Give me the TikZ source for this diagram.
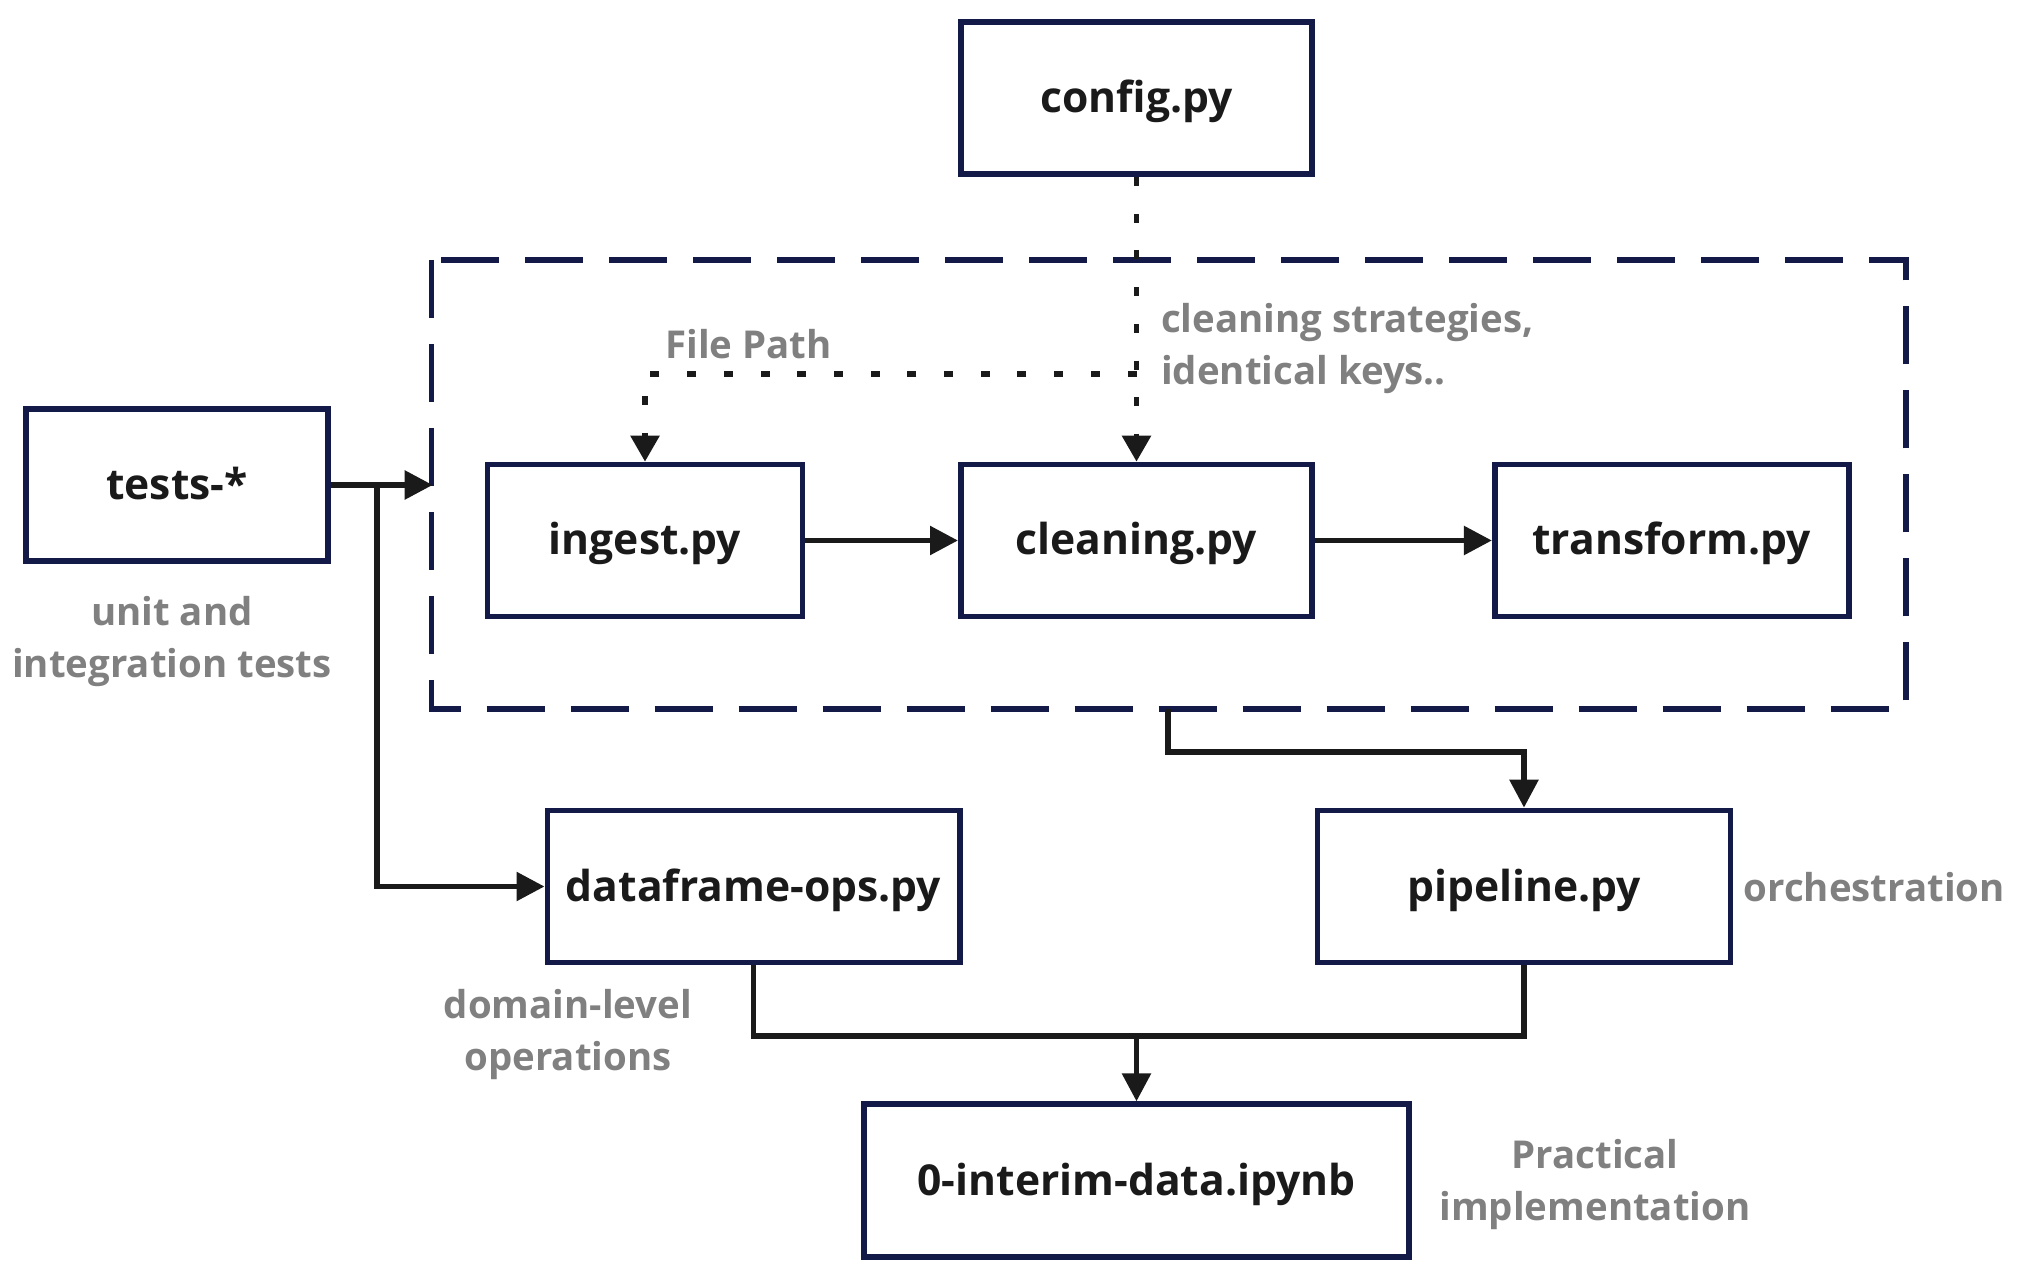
\documentclass[tikz,border=0pt]{standalone}
\usepackage{fontspec}
\IfFontExistsTF{Open Sans Bold}{\setmainfont{Open Sans}[BoldFont={Open Sans Bold}]}{\setmainfont{Fira Sans}}
\usetikzlibrary{arrows.meta}
\definecolor{navy}{HTML}{141A48}
\definecolor{ink}{HTML}{1A1A1A}
\definecolor{note}{HTML}{808080}
\tikzset{
  box/.style={draw=navy, line width=2.8pt, fill=white, inner sep=0pt,
    text height=21pt, text depth=6.5pt,
    minimum height=76pt, font=\fontsize{21.3}{26}\selectfont\bfseries, text=ink},
  flow/.style={draw=ink, line width=2.8pt, -{Triangle[length=14pt,width=14pt]}},
  plain/.style={draw=ink, line width=2.8pt},
  dotline/.style={draw=ink, line width=2.8pt, dash pattern=on 4.5pt off 13.85pt,
    -{Triangle[length=13pt,width=14pt]}},
  group/.style={draw=navy, line width=2.8pt, dash pattern=on 29pt off 13pt},
  notetext/.style={text=note, inner sep=0pt, font=\fontsize{19.2}{26}\selectfont\bfseries}
}
\begin{document}
\begin{tikzpicture}[x=0.5pt, y=-0.5pt]
\useasboundingbox (0,0) rectangle (2026,1278);
% group frame
\draw[group] (431.5,260) rectangle (1906,709);
% boxes
\node[box, minimum width=175.7pt] (config) at (1136.5,98.3) {config.py};
\node[box, minimum width=151.2pt] (tests) at (177,485) {tests-*};
\node[box, minimum width=157.5pt] (ingest) at (645,540.5) {ingest.py};
\node[box, minimum width=175.7pt] (cleaning) at (1136.5,540.5) {cleaning.py};
\node[box, minimum width=177pt] (transform) at (1671.7,540.5) {transform.py};
\node[box, minimum width=206.2pt] (dfops) at (753.5,886.5) {dataframe-ops.py};
\node[box, minimum width=206.4pt] (pipeline) at (1524,886.5) {pipeline.py};
\node[box, minimum width=272.7pt, minimum height=76.5pt] (interim) at (1136.5,1180.7) {0-interim-data.ipynb};
% helper coordinates
\coordinate (frameW) at (432.7,485);
\coordinate (branch) at (376.7,485);
\coordinate (frameS) at (1168,709);
\coordinate (pjoin) at (1168,752);
\coordinate (merge) at (1136.5,1036);
\coordinate (split) at (1136.5,374);
% dotted config links
\draw[dotline] (config.south) -- (cleaning.north);
\draw[dotline] (split) -| (ingest.north);
% solid links
\draw[flow] (tests.east) -- (frameW);
\draw[flow] (branch) |- (dfops.west);
\draw[flow] (ingest.east) -- (cleaning.west);
\draw[flow] (cleaning.east) -- (transform.west);
\draw[flow] (frameS) -- (pjoin) -| (pipeline.north);
\draw[plain] (dfops.south) |- (merge) -| (pipeline.south);
\draw[flow] (merge) -- (interim.north);
% notes (anchor base = baseline of the last line)
\node[notetext, anchor=base, align=center] (n1) at (172,677.6) {unit and\\integration tests};
\node[notetext, anchor=base west, align=left] (n2) at (1160.7,384.5) {cleaning strategies,\\identical keys..};
\node[notetext, anchor=base west] (n3) at (665,358.3) {File Path};
\node[notetext, anchor=base, align=center] (n4) at (568,1070) {domain-level\\operations};
\node[notetext, anchor=base west] (n5) at (1743.3,901.7) {orchestration};
\node[notetext, anchor=base, align=center] (n6) at (1595,1220) {Practical\\implementation};
\end{tikzpicture}
\end{document}
